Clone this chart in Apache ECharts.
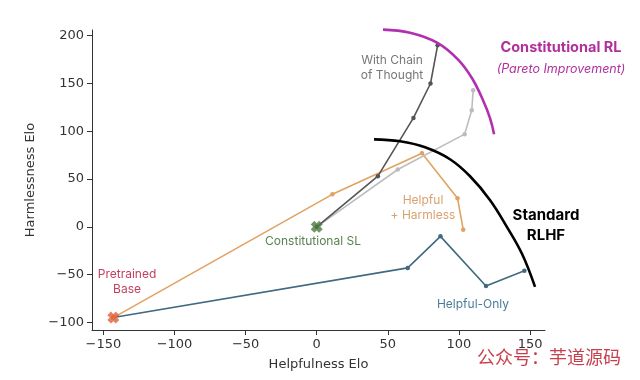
<!DOCTYPE html>
<html><head><meta charset="utf-8">
<script src="https://cdn.jsdelivr.net/npm/echarts@6/dist/echarts.min.js"></script>
<style>html,body{margin:0;padding:0;background:#fff}#c{width:640px;height:380px}</style>
</head><body><div id="c"></div>
<script>
// ---- data (Elo coordinates) ----
const xTicks = [-150, -100, -50, 0, 50, 100, 150];
const yTicks = [-100, -50, 0, 50, 100, 150, 200];
const pretrainedBase = [[-143, -95]];
const constitutionalSL = [[0, 0]];
const helpfulOnly = [[-143, -95], [64, -43], [87, -10], [119, -62], [146, -46]];
const helpfulHarmless = [[-143, -95], [11, 34], [74, 77], [99, 30], [103, -3]];
const withCoT = [[0, 0], [43, 53], [68, 114], [80, 150], [85, 190]];
const rlNoCoT = [[0, 0], [57, 60], [104, 97], [109, 122], [110, 143]];
const standardFrontier = [[40.3, 91.5], [58.6, 89.5], [76.2, 83.2], [93.7, 70.7], [107.8, 52.9], [121.9, 27.9], [133.8, -0.3], [144.4, -28.5], [153.5, -62.9]];
const rlFrontier = [[46.6, 206.4], [65.6, 203.2], [84.6, 192.8], [99.4, 175.0], [109.3, 155.2], [117.0, 132.2], [121.9, 113.5], [124.7, 96.8]];

const chart = echarts.init(document.getElementById('c'), null, {renderer: 'canvas'});
const X = 'path://M0,3 L3,0 L5,2 L7,0 L10,3 L8,5 L10,7 L7,10 L5,8 L3,10 L0,7 L2,5 Z';
const tickFont = {fontFamily: 'DejaVu Sans', fontSize: 13, color: '#333'};
const ann = 'Inter, "Open Sans", sans-serif';
const minus = v => String(v).replace('-', '\u2212');

function line(data, color, width, sym) {
  return {type: 'line', data: data, lineStyle: {color: color, width: width},
    itemStyle: {color: color}, symbol: sym ? 'circle' : 'none', symbolSize: 4.5,
    showSymbol: !!sym, animation: false, z: 3};
}

chart.setOption({
  animation: false,
  grid: {left: 92, right: 95, top: 30, bottom: 50},
  xAxis: {type: 'value', min: -158, max: 160.5,
    name: 'Helpfulness Elo', nameLocation: 'middle', nameGap: 28,
    nameTextStyle: {fontFamily: 'DejaVu Sans', fontSize: 13, color: '#333'},
    axisLine: {show: true, onZero: false, lineStyle: {color: '#333', width: 1}},
    axisTick: {show: true, inside: false, length: 5, customValues: xTicks, lineStyle: {color: '#333'}},
    axisLabel: Object.assign({customValues: xTicks, margin: 8, formatter: minus}, tickFont),
    splitLine: {show: false}},
  yAxis: {type: 'value', min: -108, max: 206,
    name: 'Harmlessness Elo', nameLocation: 'middle', nameGap: 50, nameRotate: 90,
    nameTextStyle: {fontFamily: 'DejaVu Sans', fontSize: 13, color: '#333'},
    axisLine: {show: true, onZero: false, lineStyle: {color: '#333', width: 1}},
    axisTick: {show: true, inside: false, length: 5, customValues: yTicks, lineStyle: {color: '#333'}},
    axisLabel: Object.assign({customValues: yTicks, margin: 8, formatter: minus}, tickFont),
    splitLine: {show: false}},
  series: [
    line(helpfulOnly, '#3f6a80', 1.6, true),
    line(helpfulHarmless, '#e2a262', 1.6, true),
    line(rlNoCoT, '#bdbdbd', 1.6, true),
    line(withCoT, '#555555', 1.6, true),
    Object.assign(line(standardFrontier, '#000000', 2.6, false), {smooth: 0.4, z: 4}),
    Object.assign(line(rlFrontier, '#b22fb0', 2.6, false), {smooth: 0.4, z: 4, clip: false}),
    {type: 'scatter', data: pretrainedBase, symbol: X, symbolSize: 12, itemStyle: {color: '#e0603a'}, z: 6},
    {type: 'scatter', data: constitutionalSL, symbol: X, symbolSize: 12, itemStyle: {color: '#4e7a3e'}, z: 6}
  ],
  graphic: [
    {type: 'text', x: 561, y: 48, style: {text: 'Constitutional RL', font: 'bold 14.5px ' + ann, fill: '#b0309e', align: 'center', verticalAlign: 'middle'}},
    {type: 'text', x: 561, y: 69, style: {text: '(Pareto Improvement)', font: 'italic 12.5px ' + ann, fill: '#b0309e', align: 'center', verticalAlign: 'middle'}},
    {type: 'text', x: 546, y: 225, style: {text: 'Standard\nRLHF', font: 'bold 15px ' + ann, fill: '#000', align: 'center', verticalAlign: 'middle', lineHeight: 20}},
    {type: 'text', x: 392, y: 68, style: {text: 'With Chain\nof Thought', font: '12px ' + ann, fill: '#777', align: 'center', verticalAlign: 'middle', lineHeight: 15}},
    {type: 'text', x: 423, y: 208, style: {text: 'Helpful\n+ Harmless', font: '12px ' + ann, fill: '#d9a26e', align: 'center', verticalAlign: 'middle', lineHeight: 15}},
    {type: 'text', x: 313, y: 241, style: {text: 'Constitutional SL', font: '12px ' + ann, fill: '#5b8050', align: 'center', verticalAlign: 'middle'}},
    {type: 'text', x: 127, y: 282, style: {text: 'Pretrained\nBase', font: '12px ' + ann, fill: '#c2405e', align: 'center', verticalAlign: 'middle', lineHeight: 15}},
    {type: 'text', x: 473, y: 304, style: {text: 'Helpful-Only', font: '12px ' + ann, fill: '#4b7d98', align: 'center', verticalAlign: 'middle'}},
    {type: 'text', x: 549, y: 357, z: 10, style: {text: '公众号：芋道源码', font: '18px "Noto Sans CJK SC"', fill: '#c8404f', align: 'center', verticalAlign: 'middle'}}
  ]
});
</script></body></html>
